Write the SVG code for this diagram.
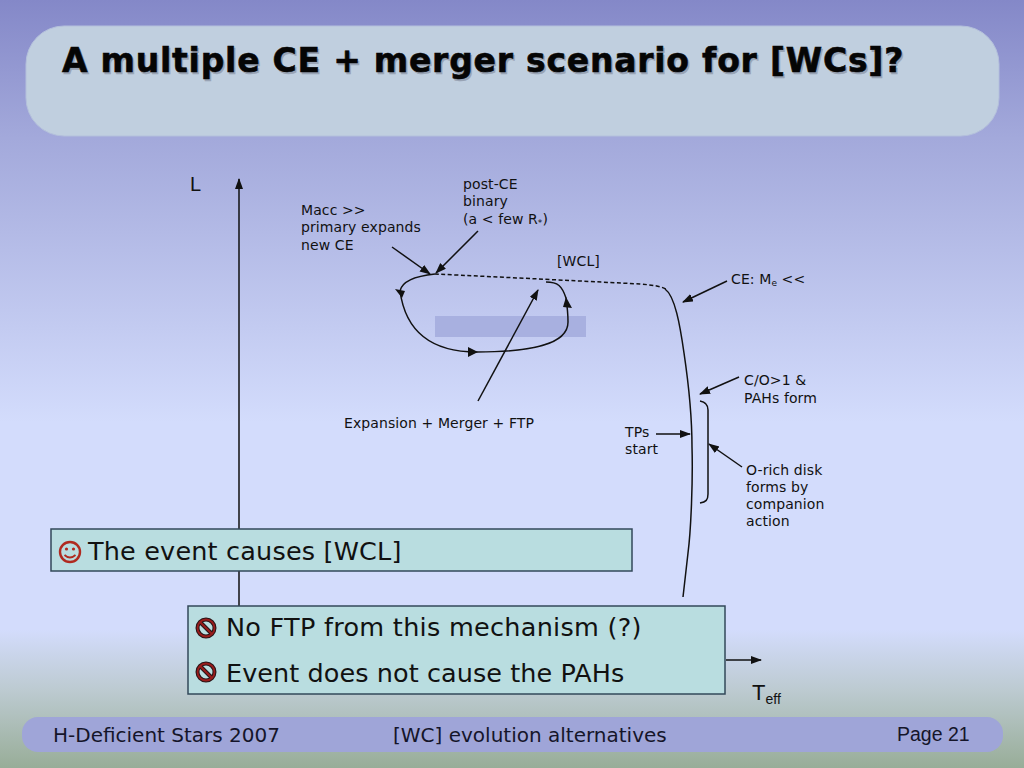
<svg xmlns="http://www.w3.org/2000/svg" width="1024" height="768" viewBox="0 0 1024 768">
<style>
text{font-family:"DejaVu Sans","Liberation Sans",sans-serif;fill:#111}
.t{font-size:33px;font-weight:bold;letter-spacing:.77px}
.s{font-size:14px;letter-spacing:.1px}
.b{font-size:25.500px;letter-spacing:.18px}
.a{font-family:"Liberation Sans",Arial,sans-serif}
.f{font-size:20px;fill:#15152a}
.l{fill:none;stroke:#111;stroke-width:1.5}
.h{fill:#111}
.box{fill:#b9dde0;stroke:#33485a;stroke-width:1.5}
.no{fill:none;stroke:#2a1518;stroke-width:4}
.nr{fill:none;stroke:#9a1c1c;stroke-width:1.800}
</style>
<defs>
<linearGradient id="bg" x1="0" y1="0" x2="0" y2="1">
<stop offset="0" stop-color="#8488c8"/>
<stop offset=".18" stop-color="#a3a9db"/>
<stop offset=".55" stop-color="#d3dcfc"/>
<stop offset=".82" stop-color="#d3dcfc"/>
<stop offset=".9" stop-color="#bccad0"/>
<stop offset="1" stop-color="#98ad98"/>
</linearGradient>
<marker id="m" markerWidth="12" markerHeight="10" refX="10" refY="4" orient="auto" markerUnits="userSpaceOnUse"><path d="M0 0L11 4L0 8z" fill="#111"/></marker>
</defs>
<rect width="1024" height="768" fill="url(#bg)"/>
<rect x="26" y="26" width="973" height="110" rx="38" fill="#c0cfdf" stroke="#b4c0dc"/>
<g id="title">
<text class="t" x="63.500" y="73.500" style="fill:#98a3b4;stroke:#98a3b4;stroke-width:.5">A multiple CE + merger scenario for [WCs]?</text>
<text class="t" x="62" y="72" style="fill:#050505;stroke:#050505;stroke-width:.6">A multiple CE + merger scenario for [WCs]?</text>
</g>
<rect x="435" y="316" width="151" height="21" fill="#a8b0e0"/>
<g id="connectors">
<path class="l" d="M239 530V179" marker-end="url(#m)"/>
<path class="l" d="M239 571V606"/>
<path class="l" d="M726 660H761" marker-end="url(#m)"/>
<path class="l" stroke-dasharray="4 2.500" d="M435 274C500 277 600 282 640 284C652 285 660 286 666 289"/>
<path class="l" d="M665 289C675 296 680 325 684 353C688 380 692 420 692 447C693 480 691 530 688 553L683 597"/>
<path class="l" d="M435 274C416 276 402 281 400 291C404 320 420 352 477 352C530 352 568 345 568 322C568 312 567 305 566 298C562 286 558 282 546 282"/>
<polygon class="h" points="395,289 405,291 402,298"/>
<polygon class="h" points="468,347 478,352 468,357"/>
<polygon class="h" points="566,297 572,308 563,307"/>
<path class="l" d="M478 401L538 290" marker-end="url(#m)"/>
<path class="l" d="M392 247L430 274" marker-end="url(#m)"/>
<path class="l" d="M478 231L436 273" marker-end="url(#m)"/>
<path class="l" d="M727 281L683 302" marker-end="url(#m)"/>
<path class="l" d="M739 377L700 394" marker-end="url(#m)"/>
<path class="l" d="M656 434H690" marker-end="url(#m)"/>
<path class="l" d="M742 467L709 444" marker-end="url(#m)"/>
<path class="l" d="M700 401C706 402 708 405 708 410V494C708 500 706 502 700 503"/>
</g>
<g id="labels">
<text class="a" x="190" y="191" font-size="20">L</text>
<text class="s" x="463" y="189">post-CE</text>
<text class="s" x="463" y="206">binary</text>
<text class="s" x="463" y="224">(a &lt; few R<tspan font-size="9" dy="2">*</tspan><tspan dy="-2">)</tspan></text>
<text class="s" x="301" y="215">Macc &gt;&gt;</text>
<text class="s" x="301" y="232">primary expands</text>
<text class="s" x="301" y="250">new CE</text>
<text class="s" x="557" y="266">[WCL]</text>
<text class="s" x="731" y="284">CE: M<tspan font-size="9" dy="2">e</tspan><tspan dy="-2"> &lt;&lt;</tspan></text>
<text class="s" x="744" y="385">C/O&gt;1 &amp;</text>
<text class="s" x="744" y="403">PAHs form</text>
<text class="s" x="344" y="428">Expansion + Merger + FTP</text>
<text class="s" x="625" y="437">TPs</text>
<text class="s" x="625" y="454">start</text>
<text class="s" x="746" y="475">O-rich disk</text>
<text class="s" x="746" y="492">forms by</text>
<text class="s" x="746" y="509">companion</text>
<text class="s" x="746" y="526">action</text>
<text class="a" x="752" y="700" font-size="22">T<tspan font-size="14" dy="4">eff</tspan></text>
</g>
<g id="box1">
<rect class="box" x="51" y="529" width="581" height="42"/>
<circle cx="70" cy="552" r="10" fill="none" stroke="#b02a20" stroke-width="2.400"/>
<circle cx="66.500" cy="549" r="1.600" fill="#b02a20"/><circle cx="73.500" cy="549" r="1.600" fill="#b02a20"/>
<path d="M64.500 555Q70 560 75.500 555" fill="none" stroke="#b02a20" stroke-width="1.800"/>
<text class="b" x="88" y="560">The event causes [WCL]</text>
</g>
<g id="box2">
<rect class="box" x="188" y="606" width="537" height="88"/>
<circle cx="206" cy="628" r="8.500" class="no"/><path class="no" d="M200 622L212 634"/>
<circle cx="206" cy="628" r="8.500" class="nr"/><path class="nr" d="M200 622L212 634"/>
<text class="b" x="226" y="636" style="letter-spacing:.28px">No FTP from this mechanism (?)</text>
<circle cx="206" cy="672" r="8.500" class="no"/><path class="no" d="M200 666L212 678"/>
<circle cx="206" cy="672" r="8.500" class="nr"/><path class="nr" d="M200 666L212 678"/>
<text class="b" x="226" y="682" style="letter-spacing:.07px">Event does not cause the PAHs</text>
</g>
<g id="footer">
<rect x="22" y="717" width="981" height="35" rx="16" fill="#9fa5d8"/>
<text class="f" x="53" y="742">H-Deficient Stars 2007</text>
<text class="f" x="393" y="742">[WC] evolution alternatives</text>
<text class="f a" x="897" y="741" style="font-size:19.500px">Page 21</text>
</g>
</svg>
